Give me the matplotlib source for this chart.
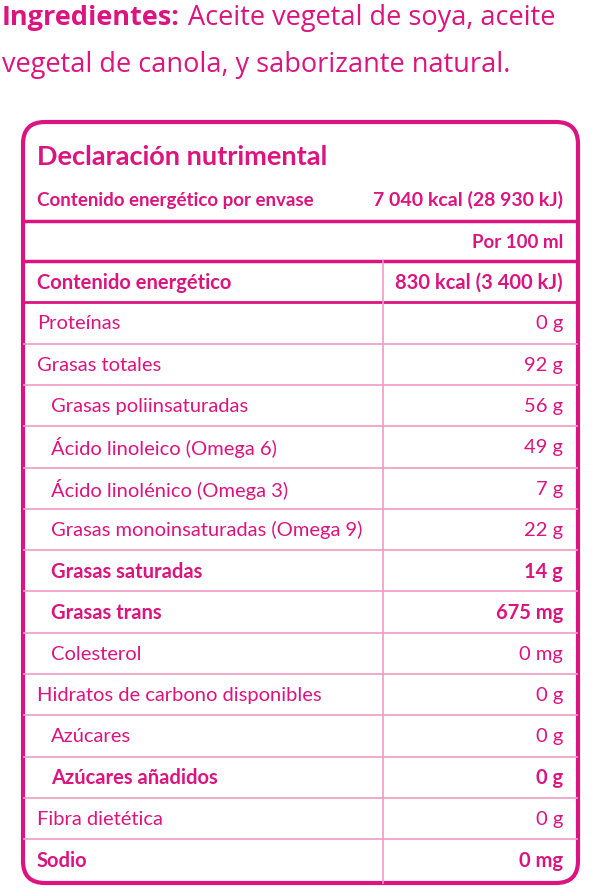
import matplotlib.pyplot as plt
from matplotlib.patches import FancyBboxPatch

labels = ["Contenido energético", "Proteínas", "Grasas totales", "Grasas poliinsaturadas",
          "Ácido linoleico (Omega 6)", "Ácido linolénico (Omega 3)",
          "Grasas monoinsaturadas (Omega 9)", "Grasas saturadas", "Grasas trans",
          "Colesterol", "Hidratos de carbono disponibles", "Azúcares",
          "Azúcares añadidos", "Fibra dietética", "Sodio"]
values = ["830 kcal (3 400 kJ)", "0 g", "92 g", "56 g", "49 g", "7 g", "22 g", "14 g",
          "675 mg", "0 mg", "0 g", "0 g", "0 g", "0 g", "0 mg"]
bold = [1, 0, 0, 0, 0, 0, 0, 1, 1, 0, 0, 0, 1, 0, 1]
indent = [0, 0, 0, 1, 1, 1, 1, 1, 1, 1, 0, 1, 1, 0, 0]

MAG = "#DC1480"
LINE = "#EE9CC6"
FONT = "Lato"

fig = plt.figure(figsize=(6.01, 8.95), dpi=100)
ax = fig.add_axes([0, 0, 1, 1])
ax.set_xlim(0, 601)
ax.set_ylim(895, 0)
ax.axis("off")

t = ax.text(2, 18, "Ingredientes:", color=MAG, fontsize=19.5, fontweight="bold", family="Open Sans", va="center")
fig.canvas.draw()
bb = t.get_window_extent().transformed(ax.transData.inverted())
ax.text(bb.x1 + 8, 18, "Aceite vegetal de soya, aceite", color=MAG, fontsize=19.5, family="Open Sans", va="center")
ax.text(2, 65, "vegetal de canola, y saborizante natural.", color=MAG, fontsize=19.5, family="Open Sans", va="center")

box = FancyBboxPatch((23, 123), 555, 761, boxstyle="round,pad=0,rounding_size=22",
                     fill=False, edgecolor=MAG, linewidth=3)
ax.add_patch(box)

ax.text(37, 157, "Declaración nutrimental", color=MAG, fontsize=19.5, fontweight="bold", family=FONT, va="center")
ax.text(37, 200, "Contenido energético por envase", color=MAG, fontsize=13.5, fontweight="bold", family=FONT, va="center")
ax.text(563, 200, "7 040 kcal (28 930 kJ)", color=MAG, fontsize=14, fontweight="bold", family=FONT, va="center", ha="right")
ax.plot([24, 577], [222, 222], color=MAG, lw=2.5)
ax.text(563, 242, "Por 100 ml", color=MAG, fontsize=13.5, fontweight="bold", family=FONT, va="center", ha="right")

top = 262
step = 41.3
ax.plot([24, 577], [top, top], color=MAG, lw=2.5)
for i, (lab, val) in enumerate(zip(labels, values)):
    yc = top + step * (i + 0.5)
    w = "bold" if bold[i] else "normal"
    ax.text(37 + 14 * indent[i], yc, lab, color=MAG, fontsize=14.5, fontweight=w, family=FONT, va="center")
    ax.text(563, yc, val, color=MAG, fontsize=14.5, fontweight=w, family=FONT, va="center", ha="right")
    if i < len(labels) - 1:
        y = top + step * (i + 1)
        ax.plot([24, 577], [y, y], color=LINE if i > 0 else MAG, lw=1.2 if i > 0 else 2)
ax.plot([383, 383], [top, 884], color=LINE, lw=1.2)

fig.savefig("out.png", dpi=100)
